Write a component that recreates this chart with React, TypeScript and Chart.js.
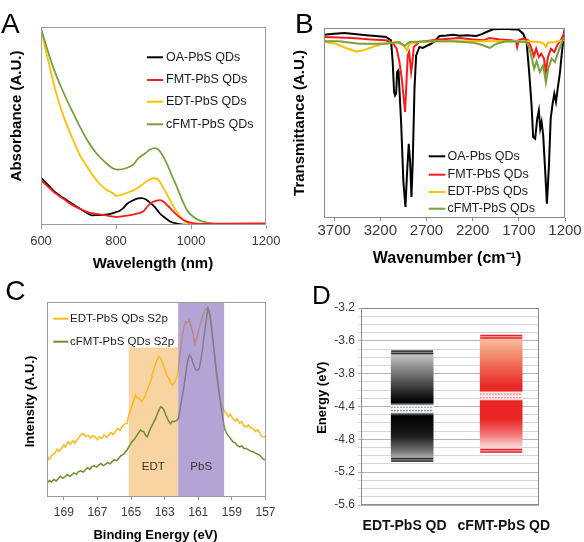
import React, { useEffect, useRef } from "react";
import { Chart, registerables } from "chart.js";
Chart.register(...registerables);

const FONT = "'Liberation Sans', Arial, Helvetica, sans-serif";
Chart.defaults.font.family = FONT;

// ---------------- Panel A : absorbance ----------------
const A_X_TICKS = [600, 800, 1000, 1200];
const A_NAMES = ["OA-PbS QDs", "FMT-PbS QDs", "EDT-PbS QDs", "cFMT-PbS QDs"];
const A_OA: [number, number][] = [[600,23.8],[620,20.0],[637,16.7],[660,13.6],[682,10.8],[704,8.2],[726,5.7],[735,4.9],[750,5.0],[770,5.2],[785,5.6],[801,6.6],[810,7.2],[820,8.6],[829,10.6],[846,12.5],[858,13.4],[869,13.6],[880,12.9],[891,11.2],[900,9.8],[910,7.5],[918,5.6],[927,4.2],[944,1.8],[962,0.7],[980,0.2],[998,0],[1050,0],[1200,0]];
const A_FMT: [number, number][] = [[600,22.6],[620,19.2],[637,16.2],[660,13.2],[682,10.3],[704,8.2],[726,6.4],[748,5.6],[770,5.0],[790,4.3],[801,4.0],[815,4.3],[830,4.7],[846,5.3],[860,6.0],[873,6.9],[887,10.0],[898,11.6],[908,12.3],[918,12.6],[928,11.6],[936,10.1],[950,7.4],[962,5.1],[975,3.2],[989,1.7],[1005,0.9],[1024,0.6],[1100,0.7],[1200,0.8]];
const A_EDT: [number, number][] = [[600,100],[610,90.5],[620,82.5],[637,69.0],[659,55.5],[682,44.5],[704,35.2],[726,28.5],[748,22.6],[770,18.4],[793,15.9],[801,14.7],[812,15.2],[824,15.9],[846,17.5],[868,20.1],[885,22.5],[900,23.6],[912,23.0],[927,18.5],[944,12.6],[962,6.7],[980,2.5],[993,0.6],[1003,0]];
const A_CFMT: [number, number][] = [[600,99.3],[620,86.7],[637,77.4],[659,67.3],[682,58.0],[704,49.6],[726,42.0],[748,36.1],[770,31.9],[793,28.5],[806,28.0],[828,28.8],[846,30.5],[859,33.6],[877,36.1],[890,38.0],[904,38.8],[918,37.0],[935,31.2],[950,24.5],[962,19.4],[980,11.0],[993,6.5],[1006,4.2],[1020,2.5],[1033,1.7],[1050,0.9],[1069,0.5],[1100,0.5],[1200,0.5]];

// ---------------- Panel B : FTIR ----------------
const B_X_TICKS = [3700, 3200, 2700, 2200, 1700, 1200];
const B_NAMES = ["OA-Pbs QDs", "FMT-PbS QDs", "EDT-PbS QDs", "cFMT-PbS QDs"];
const B_OA: [number, number][] = [[3810,96.5],[3700,97.0],[3591,97.4],[3480,96.8],[3355,96.2],[3250,95.8],[3138,95.3],[3084,93.5],[3066,82.1],[3051,66.3],[3040,64.5],[3029,65.4],[3018,76.8],[3008,77.5],[3001,75.1],[2975,50.5],[2950,18.9],[2928,5.8],[2910,24.2],[2892,39.1],[2877,29.5],[2863,11.1],[2849,29.5],[2830,68.1],[2812,85.6],[2776,90.0],[2740,89.5],[2703,90.5],[2649,91.7],[2613,93.0],[2559,95.8],[2480,96.0],[2414,96.5],[2340,95.9],[2268,96.2],[2160,95.8],[2100,96.8],[2051,97.9],[1979,99.3],[1900,99.5],[1834,99.6],[1760,99.2],[1708,99.3],[1653,97.0],[1616,92.6],[1588,76.8],[1562,59.3],[1545,42.6],[1523,41.7],[1501,52.3],[1483,56.7],[1468,47.0],[1453,50.5],[1436,43.5],[1414,24.2],[1396,7.5],[1374,27.7],[1355,52.3],[1334,60.2],[1316,65.4],[1298,61.1],[1279,68.1],[1254,76.8],[1233,87.4],[1211,97.0],[1200,100]];
const B_FMT: [number, number][] = [[3810,95.3],[3650,95.0],[3501,94.7],[3300,94.0],[3138,93.5],[3059,91.7],[3023,89.1],[2993,82.1],[2968,73.3],[2950,64.6],[2932,55.8],[2917,71.6],[2903,85.6],[2888,87.4],[2866,76.8],[2852,82.1],[2838,90.0],[2776,92.6],[2632,93.5],[2559,94.0],[2450,94.4],[2341,94.7],[2197,94.0],[2088,93.5],[2015,94.7],[1907,94.0],[1779,93.5],[1730,93.0],[1718,90.0],[1703,93.5],[1653,94.4],[1599,93.5],[1562,89.1],[1537,85.1],[1512,89.1],[1483,84.7],[1458,86.5],[1428,83.9],[1407,76.8],[1385,84.7],[1352,89.1],[1316,87.4],[1284,90.9],[1247,93.5],[1211,97.0],[1200,98.5]];
const B_EDT: [number, number][] = [[3810,92.6],[3682,91.7],[3573,89.5],[3464,87.7],[3392,88.1],[3284,90.0],[3175,91.7],[3029,92.6],[2950,90.9],[2914,88.3],[2885,91.7],[2776,92.6],[2559,93.0],[2200,93.0],[1900,93.0],[1600,93.0],[1470,92.5],[1430,91.8],[1407,90.0],[1385,92.3],[1320,92.6],[1211,93.5],[1200,94.0]];
const B_CFMT: [number, number][] = [[3810,93.0],[3646,93.0],[3428,91.7],[3138,91.7],[2993,92.6],[2939,90.5],[2885,92.6],[2667,93.0],[2414,93.0],[2197,92.3],[2105,91.2],[2015,89.5],[1942,91.7],[1834,93.0],[1616,92.6],[1580,88.3],[1534,78.6],[1508,82.5],[1472,76.8],[1436,80.4],[1407,71.2],[1382,78.6],[1345,83.9],[1309,82.1],[1273,87.4],[1218,94.4],[1200,95.5]];

// ---------------- Panel C : XPS S2p ----------------
const C_X_TICKS = [169, 167, 165, 163, 161, 159, 157];
const C_NAMES = ["EDT-PbS QDs S2p", "cFMT-PbS QDs S2p"];
const C_EDT: [number, number][] = [[170.0,21.4],[169.9,19.2],[169.84,19.7],[169.7,21.5],[169.54,22.3],[169.4,24.5],[169.3,23.4],[169.14,24.9],[169.0,26.8],[168.9,25.6],[168.74,28.3],[168.6,27.0],[168.45,28.9],[168.34,27.5],[168.2,29.6],[168.14,30.0],[168.0,31.8],[167.84,32.6],[167.7,31.0],[167.54,31.7],[167.4,30.2],[167.3,31.5],[167.14,30.9],[167.0,29.4],[166.9,30.8],[166.74,30.0],[166.6,31.9],[166.45,30.6],[166.34,31.7],[166.2,33.1],[166.05,32.0],[165.94,33.5],[165.8,35.2],[165.65,34.1],[165.54,36.0],[165.4,37.4],[165.24,37.7],[165.14,42.0],[165.04,44.0],[164.94,47.2],[164.84,49.5],[164.74,52.3],[164.64,51.0],[164.54,50.6],[164.44,49.8],[164.34,48.9],[164.24,50.5],[164.14,52.3],[164.0,55.8],[163.84,59.2],[163.7,63.8],[163.54,68.6],[163.44,70.5],[163.34,72.0],[163.24,71.0],[163.14,69.4],[163.04,66.5],[162.94,64.3],[162.84,62.0],[162.74,60.9],[162.64,58.2],[162.54,57.4],[162.44,58.3],[162.34,60.0],[162.24,62.6],[162.14,69.4],[162.04,76.0],[161.94,83.2],[161.84,87.5],[161.74,90.0],[161.64,89.5],[161.54,90.9],[161.44,87.8],[161.34,84.9],[161.26,80.5],[161.2,78.0],[161.12,80.8],[161.04,83.2],[160.94,86.7],[160.84,90.0],[160.74,92.8],[160.64,95.2],[160.54,96.3],[160.48,96.9],[160.4,95.4],[160.34,93.5],[160.24,88.0],[160.14,81.5],[160.04,73.0],[159.94,64.3],[159.84,57.6],[159.74,52.3],[159.64,48.2],[159.54,45.4],[159.44,44.1],[159.34,42.9],[159.2,41.2],[159.1,42.3],[158.94,40.3],[158.8,38.9],[158.7,40.1],[158.54,37.7],[158.4,38.6],[158.3,36.5],[158.14,36.0],[158.0,37.0],[157.9,35.4],[157.74,35.2],[157.6,33.6],[157.45,34.4],[157.34,32.6],[157.2,31.0],[157.04,30.9]];
const C_CFMT: [number, number][] = [[170.0,6.9],[169.85,8.5],[169.74,7.7],[169.6,9.0],[169.45,8.2],[169.34,9.4],[169.2,10.6],[169.05,9.6],[168.94,10.3],[168.8,11.5],[168.65,10.6],[168.54,11.2],[168.4,12.4],[168.25,11.7],[168.14,12.9],[168.0,13.4],[167.85,12.8],[167.74,13.7],[167.6,15.0],[167.45,14.2],[167.34,15.5],[167.2,16.1],[167.05,15.3],[166.94,16.3],[166.8,17.2],[166.65,16.1],[166.54,16.6],[166.4,17.6],[166.25,17.0],[166.14,18.0],[166.0,19.1],[165.85,18.6],[165.74,19.7],[165.6,21.2],[165.45,21.8],[165.34,23.2],[165.24,24.0],[165.14,25.7],[165.04,27.0],[164.94,28.3],[164.8,29.6],[164.64,31.7],[164.54,33.0],[164.44,34.3],[164.34,33.8],[164.24,33.5],[164.14,31.6],[164.04,30.9],[163.94,33.0],[163.84,35.2],[163.7,37.5],[163.54,40.3],[163.4,43.4],[163.24,46.3],[163.14,45.8],[163.04,44.6],[162.94,42.2],[162.84,40.3],[162.74,38.6],[162.64,37.7],[162.54,38.9],[162.44,38.6],[162.3,39.2],[162.18,40.3],[162.04,47.2],[161.94,52.0],[161.84,57.4],[161.74,63.5],[161.64,69.4],[161.56,72.0],[161.5,72.9],[161.42,71.5],[161.34,69.4],[161.24,67.0],[161.14,65.2],[161.04,65.0],[160.94,66.0],[160.84,70.5],[160.74,76.3],[160.64,83.5],[160.54,90.0],[160.48,94.0],[160.42,96.9],[160.36,95.5],[160.3,93.5],[160.22,88.0],[160.14,81.5],[160.04,73.5],[159.94,66.0],[159.84,59.0],[159.74,52.3],[159.64,46.0],[159.54,40.3],[159.44,35.2],[159.34,33.2],[159.24,31.7],[159.1,30.2],[158.94,28.3],[158.8,27.8],[158.7,26.6],[158.54,25.7],[158.4,26.3],[158.3,24.9],[158.14,24.9],[158.0,24.2],[157.9,23.5],[157.74,23.2],[157.6,22.5],[157.45,21.9],[157.34,21.4],[157.2,20.0],[157.04,18.9]];
const C_REGION_NAMES = ["EDT", "PbS"];
const C_REGION_FROM = [165.15, 162.2];
const C_REGION_TO = [162.2, 159.45];
const C_REGION_TOP = [76.7, 100];
const C_REGION_LABEL_Y = 15.5;

// ---------------- Panel D : energy levels ----------------
const D_CATEGORIES = ["EDT-PbS QD", "cFMT-PbS QD"];
const D_CB = [-3.74, -3.55];
const D_VB = [-5.05, -4.94];
const D_FERMI = [-4.43, -4.27];
const D_TICK_VALUES = [-3.2, -3.6, -4.0, -4.4, -4.8, -5.2, -5.6];
const D_TICK_LABELS = ["-3.2", "-3.6", "-3.8", "-4.4", "-4.8", "-5.2", "-5.6"];

// ---------------- styles ----------------
const COL = { black: "#000000", red: "#ff1a1a", yellow: "#ffc000", green: "#77a13b", cgreen: "#6b8f2c", cyellow: "#ffb81c" };
const W = 292, H = 271;
const TICK_COLOR = "#3a3a3a";
const D_LABEL_SHIFT = [-0.085, 0.03];

type TextItem = { text: string; x: number; y: number; font: string; align?: CanvasTextAlign; baseline?: CanvasTextBaseline; rotate?: number; color?: string };
type LineItem = { x1: number; x2: number; y: number; color: string; width: number };

function overlayPlugin(texts: TextItem[], lines: LineItem[]) {
  return {
    id: "overlay",
    afterDraw(chart: any) {
      const ctx = chart.ctx;
      ctx.save();
      for (const l of lines) {
        ctx.strokeStyle = l.color; ctx.lineWidth = l.width;
        ctx.beginPath(); ctx.moveTo(l.x1, l.y); ctx.lineTo(l.x2, l.y); ctx.stroke();
      }
      for (const t of texts) {
        ctx.save();
        ctx.font = t.font; ctx.fillStyle = t.color || "#111";
        ctx.textAlign = t.align || "left"; ctx.textBaseline = t.baseline || "alphabetic";
        ctx.translate(t.x, t.y);
        if (t.rotate) ctx.rotate(t.rotate);
        ctx.fillText(t.text, 0, 0);
        ctx.restore();
      }
      ctx.restore();
    },
  };
}

function framePlugin(color: string) {
  return {
    id: "frame",
    afterDatasetsDraw(chart: any) {
      const { left, top, right, bottom } = chart.chartArea;
      const ctx = chart.ctx;
      ctx.save();
      ctx.strokeStyle = color; ctx.lineWidth = 1;
      const l = Math.round(left) + 0.5, t = Math.round(top) + 0.5;
      const r = Math.round(right) - 0.5, b = Math.round(bottom) - 0.5;
      ctx.strokeRect(l, t, r - l, b - t);
      ctx.restore();
    },
  };
}

function legendItems(names: string[], colors: string[], x1: number, x2: number, tx: number, ys: number[], font: string) {
  const lines: LineItem[] = names.map((_, i) => ({ x1, x2, y: ys[i], color: colors[i], width: 2 }));
  const texts: TextItem[] = names.map((n, i) => ({ text: n, x: tx, y: ys[i], font, baseline: "middle" as CanvasTextBaseline, color: "#1a1a1a" }));
  return { lines, texts };
}

const pts = (arr: [number, number][]) => arr.map(([x, y]) => ({ x, y }));
const lineDs = (label: string, arr: [number, number][], color: string, width: number, order: number, tension = 0) => ({
  type: "line", label, data: pts(arr), borderColor: color, backgroundColor: color, borderWidth: width,
  pointRadius: 0, fill: false, tension, cubicInterpolationMode: tension ? "monotone" : "default", order,
});

function baseOptions(area: { left: number; top: number; right: number; bottom: number }) {
  return {
    responsive: false, animation: false, devicePixelRatio: 1, events: [],
    layout: { padding: { left: 0, top: area.top, right: W - area.right, bottom: 0 } },
    plugins: { legend: { display: false }, tooltip: { enabled: false } },
  };
}

const xTicksFrom = (vals: number[]) => (s: any) => { s.ticks = vals.map((v) => ({ value: v })); };
const plain = (v: any) => String(v);

// ---------------- configs ----------------
function configA() {
  const area = { left: 41, top: 27, right: 266, bottom: 225 };
  const colors = [COL.black, COL.red, COL.yellow, COL.green];
  const lg = legendItems(A_NAMES, colors, 147, 163, 166, [57.3, 80, 101.7, 124.3], `12.5px ${FONT}`);
  const texts: TextItem[] = [
    { text: "A", x: 1, y: 33, font: `28px ${FONT}`, color: "#000" },
    { text: "Wavelength (nm)", x: 153, y: 267.5, font: `bold 15px ${FONT}`, align: "center", color: "#000" },
    { text: "Absorbance (A.U.)", x: 21, y: 116, font: `bold 15px ${FONT}`, align: "center", rotate: -Math.PI / 2, color: "#000" },
    ...lg.texts,
  ];
  return {
    type: "line",
    data: {
      datasets: [
        lineDs(A_NAMES[0], A_OA, COL.black, 1.8, 4, 0.4),
        lineDs(A_NAMES[1], A_FMT, COL.red, 1.8, 1, 0.4),
        lineDs(A_NAMES[2], A_EDT, COL.yellow, 1.8, 3, 0.4),
        lineDs(A_NAMES[3], A_CFMT, COL.green, 1.8, 2, 0.4),
      ],
    },
    options: {
      ...baseOptions(area),
      scales: {
        x: {
          type: "linear", min: 600, max: 1200, afterBuildTicks: xTicksFrom(A_X_TICKS),
          afterFit: (s: any) => { s.height = H - area.bottom; },
          grid: { display: true, drawOnChartArea: false, drawTicks: true, tickLength: 4, color: "#9a9a9a" },
          border: { display: false },
          ticks: { font: { size: 13 }, color: TICK_COLOR, padding: 5, maxRotation: 0, autoSkip: false, callback: plain },
        },
        y: {
          type: "linear", min: 0, max: 100,
          afterFit: (s: any) => { s.width = area.left; },
          grid: { display: false }, border: { display: false }, ticks: { display: false },
        },
      },
    },
    plugins: [framePlugin("#9a9a9a"), overlayPlugin(texts, lg.lines)],
  };
}

function configB() {
  const area = { left: 32, top: 28, right: 273, bottom: 218 };
  const colors = [COL.black, COL.red, COL.yellow, COL.green];
  const lg = legendItems(B_NAMES, colors, 136.7, 153.3, 155.5, [156.3, 174.7, 192, 208.7], `12.5px ${FONT}`);
  const texts: TextItem[] = [
    { text: "B", x: 3, y: 33.3, font: `28px ${FONT}`, color: "#000" },
    { text: "Wavenumber (cm\u207B\u00B9)", x: 155, y: 263, font: `bold 16px ${FONT}`, align: "center", color: "#000" },
    { text: "Transmittance (A.U.)", x: 11.5, y: 123, font: `bold 15px ${FONT}`, align: "center", rotate: -Math.PI / 2, color: "#000" },
    ...lg.texts,
  ];
  return {
    type: "line",
    data: {
      datasets: [
        lineDs(B_NAMES[0], B_OA, COL.black, 2, 4),
        lineDs(B_NAMES[1], B_FMT, COL.red, 2, 3),
        lineDs(B_NAMES[2], B_EDT, COL.yellow, 2, 2),
        lineDs(B_NAMES[3], B_CFMT, COL.green, 2, 1),
      ],
    },
    options: {
      ...baseOptions(area),
      scales: {
        x: {
          type: "linear", min: 1200, max: 3810, reverse: true, afterBuildTicks: xTicksFrom(B_X_TICKS),
          afterFit: (s: any) => { s.height = H - area.bottom; },
          grid: { display: true, drawOnChartArea: false, drawTicks: true, tickLength: 3, color: "#8a8a8a" },
          border: { display: false },
          ticks: { font: { size: 15 }, color: TICK_COLOR, padding: 1, maxRotation: 0, autoSkip: false, callback: plain },
        },
        y: {
          type: "linear", min: 0, max: 100,
          afterFit: (s: any) => { s.width = area.left; },
          grid: { display: false }, border: { display: false }, ticks: { display: false },
        },
      },
    },
    plugins: [framePlugin("#8a8a8a"), overlayPlugin(texts, lg.lines)],
  };
}

function configC() {
  const area = { left: 47, top: 31, right: 265.5, bottom: 226 };
  const lg = legendItems(C_NAMES, [COL.cyellow, COL.cgreen], 53.3, 68.3, 70, [47.7, 70.7], `11.5px ${FONT}`);
  const texts: TextItem[] = [
    { text: "C", x: 5.3, y: 28.5, font: `28px ${FONT}`, color: "#000" },
    { text: "Binding Energy (eV)", x: 155.5, y: 267.6, font: `bold 13px ${FONT}`, align: "center", color: "#000" },
    { text: "Intensity (A.U.)", x: 34.3, y: 130.5, font: `bold 13px ${FONT}`, align: "center", rotate: -Math.PI / 2, color: "#000" },
    ...lg.texts,
  ];
  const regionColors = ["#f8d4a2", "rgba(140,115,190,0.65)"];
  const regionOrders = [6, 0];
  const regions = C_REGION_NAMES.map((n, i) => ({
    type: "line", label: n,
    data: [{ x: C_REGION_FROM[i], y: C_REGION_TOP[i] }, { x: C_REGION_TO[i], y: C_REGION_TOP[i] }],
    borderWidth: 0, borderColor: "rgba(0,0,0,0)", backgroundColor: regionColors[i],
    pointRadius: 0, fill: "start", order: regionOrders[i], tension: 0,
  }));
  const regionLabels = {
    id: "regionLabels",
    afterDatasetsDraw(chart: any) {
      const ctx = chart.ctx; const xs = chart.scales.x; const ys = chart.scales.y;
      ctx.save();
      ctx.font = `11.5px ${FONT}`; ctx.fillStyle = "#333"; ctx.textAlign = "center"; ctx.textBaseline = "middle";
      C_REGION_NAMES.forEach((n, i) => {
        ctx.fillText(n, xs.getPixelForValue((C_REGION_FROM[i] + C_REGION_TO[i]) / 2), ys.getPixelForValue(C_REGION_LABEL_Y));
      });
      ctx.restore();
    },
  };
  return {
    type: "line",
    data: {
      datasets: [
        ...regions,
        lineDs(C_NAMES[0], C_EDT, COL.cyellow, 1.5, 2),
        lineDs(C_NAMES[1], C_CFMT, COL.cgreen, 1.5, 1),
      ],
    },
    options: {
      ...baseOptions(area),
      scales: {
        x: {
          type: "linear", min: 157, max: 170, reverse: true, afterBuildTicks: xTicksFrom(C_X_TICKS),
          afterFit: (s: any) => { s.height = H - area.bottom; },
          grid: { display: true, drawOnChartArea: false, drawTicks: true, tickLength: 3, color: "#9a9a9a" },
          border: { display: false },
          ticks: { font: { size: 12 }, color: TICK_COLOR, padding: 5, maxRotation: 0, autoSkip: false, callback: plain },
        },
        y: {
          type: "linear", min: 0, max: 100,
          afterFit: (s: any) => { s.width = area.left; },
          grid: { display: false }, border: { display: false }, ticks: { display: false },
        },
      },
    },
    plugins: [framePlugin("#9a9a9a"), regionLabels, overlayPlugin(texts, lg.lines)],
  };
}

function configD() {
  const area = { left: 69, top: 37, right: 247, bottom: 234 };
  const texts: TextItem[] = [
    { text: "D", x: 20, y: 33, font: `26px ${FONT}`, color: "#000" },
    { text: "Energy (eV)", x: 34.3, y: 126.7, font: `bold 13px ${FONT}`, align: "center", rotate: -Math.PI / 2, color: "#000" },
  ];
  const style = [
    { edge: "#2e2e2e", inner: "#9a9a9a", band: "#f2f5f8", dots: "#7a7e84" },
    { edge: "#e8232a", inner: "#f8b4b4", band: "#fde8e8", dots: "#ee7878" },
  ];
  const gradient = (c: any) => {
    const chart = c.chart; const ys = chart.scales && chart.scales.y;
    const i = c.dataIndex;
    if (!chart.chartArea || !ys || i === undefined) return "#888";
    const yTop = ys.getPixelForValue(D_CB[i]); const yBot = ys.getPixelForValue(D_VB[i]);
    const f = (ys.getPixelForValue(D_FERMI[i]) - yTop) / (yBot - yTop);
    const g = chart.ctx.createLinearGradient(0, yTop, 0, yBot);
    const stops: [number, string][] = i === 0
      ? [[0, "#d6d6d6"], [0.05, "#b6b6b6"], [f - 0.1, "#101010"], [f - 0.06, "#000"], [f - 0.045, "#6a6e74"], [f - 0.03, "#eef2f6"], [f + 0.03, "#eef2f6"], [f + 0.045, "#60646a"], [f + 0.065, "#000"], [0.78, "#1c1c1c"], [0.93, "#7c7c7c"], [1, "#c4c4c4"]]
      : [[0, "#f9c4a6"], [0.1, "#f5a080"], [0.3, "#ee5a48"], [f - 0.08, "#e82626"], [f - 0.045, "#ea2828"], [f - 0.03, "#fbe2e2"], [f + 0.03, "#fbe2e2"], [f + 0.045, "#e82424"], [0.72, "#ec2626"], [0.85, "#f27070"], [0.95, "#f9c8c8"], [1, "#fde6e6"]];
    for (const [o, col] of stops) g.addColorStop(Math.min(1, Math.max(0, o)), col);
    return g;
  };
  const decor = {
    id: "dDecor",
    afterDatasetsDraw(chart: any) {
      const ctx = chart.ctx; const ys = chart.scales.y; const meta = chart.getDatasetMeta(0);
      ctx.save();
      meta.data.forEach((bar: any, i: number) => {
        const { x, width } = bar.getProps(["x", "width"], true);
        const x0 = x - width / 2;
        const yTop = ys.getPixelForValue(D_CB[i]); const yBot = ys.getPixelForValue(D_VB[i]); const yF = ys.getPixelForValue(D_FERMI[i]);
        const st = style[i];
        ctx.fillStyle = st.band; ctx.fillRect(x0, yF - 3.5, width, 7);
        ctx.strokeStyle = st.dots; ctx.lineWidth = 1.2; ctx.setLineDash([1.5, 1.5]);
        for (const dy of [-1.7, 1.7]) { ctx.beginPath(); ctx.moveTo(x0, yF + dy); ctx.lineTo(x0 + width, yF + dy); ctx.stroke(); }
        ctx.setLineDash([]);
        for (const ye of [yTop, yBot]) {
          ctx.fillStyle = st.edge; ctx.fillRect(x0, ye - 2, width, 4);
          ctx.fillStyle = st.inner; ctx.fillRect(x0, ye - 0.5, width, 1);
        }
      });
      ctx.restore();
    },
  };
  const gridTicks = (s: any) => {
    const t = [];
    for (let k = 0; k <= 24; k++) t.push({ value: Math.round((-5.6 + k * 0.1) * 10) / 10 });
    s.ticks = t;
  };
  const isMajor = (v: number) => D_TICK_VALUES.findIndex((t) => Math.abs(t - v) < 1e-6);
  const labelAt = (v: number) => D_CATEGORIES.findIndex((_, i) => Math.abs(i + D_LABEL_SHIFT[i] - v) < 1e-6);
  return {
    type: "bar",
    data: {
      datasets: [{
        label: "bands",
        data: D_CATEGORIES.map((_, i) => ({ x: i, y: [D_VB[i], D_CB[i]] })),
        backgroundColor: gradient, borderWidth: 0, barThickness: 42,
      }],
    },
    options: {
      ...baseOptions(area),
      scales: {
        x: {
          type: "linear", min: -0.575, max: 1.425, offset: false,
          afterBuildTicks: (s: any) => { s.ticks = D_CATEGORIES.map((_, i) => ({ value: i + D_LABEL_SHIFT[i] })); },
          afterFit: (s: any) => { s.height = H - area.bottom; },
          grid: { display: false, offset: false }, border: { display: false },
          ticks: { font: { size: 14, weight: "bold" }, color: "#111", padding: 5, maxRotation: 0, autoSkip: false,
            callback: (v: any) => { const k = labelAt(Number(v)); return k >= 0 ? D_CATEGORIES[k] : ""; } },
        },
        y: {
          type: "linear", min: -5.6, max: -3.2, beginAtZero: false,
          afterBuildTicks: gridTicks,
          afterFit: (s: any) => { s.width = area.left; },
          grid: { display: true, drawOnChartArea: true, drawTicks: true, tickLength: 3,
            color: (c: any) => (c.tick && isMajor(c.tick.value) >= 0 ? "#b4b4b4" : "#d6d6d6") },
          border: { display: false },
          ticks: { font: { size: 12 }, color: TICK_COLOR, padding: 3, autoSkip: false,
            callback: (v: any) => { const k = isMajor(Number(v)); return k >= 0 ? D_TICK_LABELS[k] : ""; } },
        },
      },
    },
    plugins: [decor, framePlugin("#8a8a8a"), overlayPlugin(texts, [])],
  };
}

function Panel({ left, top, make }: { left: number; top: number; make: () => any }) {
  const ref = useRef<HTMLCanvasElement>(null);
  useEffect(() => {
    const chart = new Chart(ref.current as HTMLCanvasElement, make());
    return () => chart.destroy();
  }, []);
  return (
    <canvas ref={ref} width={W} height={H}
      style={{ position: "absolute", left, top, width: W, height: H }} />
  );
}

export default function App() {
  return (
    <div style={{ position: "fixed", left: 0, top: 0, width: 584, height: 542, background: "#fff", overflow: "hidden" }}>
      <Panel left={0} top={0} make={configA} />
      <Panel left={292} top={0} make={configB} />
      <Panel left={0} top={271} make={configC} />
      <Panel left={292} top={271} make={configD} />
    </div>
  );
}
